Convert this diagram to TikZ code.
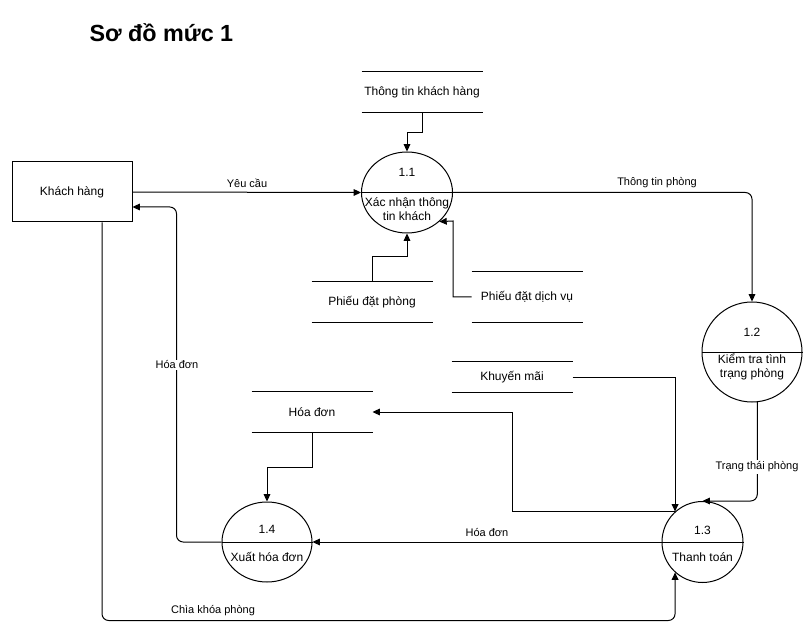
\documentclass[tikz,border=0pt]{standalone}
\usepackage{fontspec}
\setmainfont{Liberation Sans}
\usetikzlibrary{shapes.geometric,arrows.meta,calc}
\begin{document}
\begin{tikzpicture}[x=0.75pt,y=-0.75pt,
  line width=0.75pt,
  arr/.style={-{Triangle[length=5.5pt,width=5pt]}},
  ent/.style={draw,rectangle,minimum width=90pt,minimum height=45pt,inner sep=0pt,font=\fontsize{9}{10.5}\selectfont},
  proc/.style={draw,ellipse,inner sep=0pt},
  store/.style={rectangle,inner sep=0pt,minimum width=#1,font=\fontsize{9}{10.5}\selectfont},
  txt/.style={font=\fontsize{9}{10.5}\selectfont,align=center,inner sep=0pt},
  lbl/.style={font=\fontsize{8.25}{10}\selectfont,inner sep=1pt},
  lblw/.style={lbl,fill=white}]
\useasboundingbox (0,0) rectangle (811,638);
\node[anchor=west,inner sep=0pt,font=\bfseries\fontsize{17.5}{20}\selectfont] (title) at (89,33) {Sơ đồ mức 1};
% entity
\node[ent] (kh) at (72,192) {Khách hàng};
% processes
\node[proc,minimum width=68.25pt,minimum height=60.75pt] (p11) at (407,192.5) {};
\node[proc,minimum width=75pt,minimum height=75pt] (p12) at (752,352) {};
\node[proc,minimum width=60.75pt,minimum height=60.75pt] (p13) at (702.5,542) {};
\node[proc,minimum width=67.5pt,minimum height=60pt] (p14) at (267,542) {};
\draw (p11.west) -- (p11.east);
\draw (p12.west) -- (p12.east);
\draw (p13.west) -- (p13.east);
\draw (p14.west) -- (p14.east);
\node[txt] (n11) at (407,172) {1.1};
\node[txt] (t11) at (407,209) {Xác nhận thông\\tin khách};
\node[txt] (n12) at (752,332) {1.2};
\node[txt] (t12) at (752,367) {Kiểm tra tình\\trạng phòng};
\node[txt] (n13) at (702.5,530) {1.3};
\node[txt] (t13) at (702.5,557) {Thanh toán};
\node[txt] (n14) at (267,529) {1.4};
\node[txt] (t14) at (267,557) {Xuất hóa đơn};
% stores
\node[store=90pt,minimum height=30pt] (stkh) at (422,92) {Thông tin khách hàng};
\node[store=90pt,minimum height=30pt] (spdp) at (372,302) {Phiếu đặt phòng};
\node[store=82.5pt,minimum height=37.5pt] (spdv) at (527,297) {Phiếu đặt dịch vụ};
\node[store=90pt,minimum height=22.5pt] (skm) at (512,377) {Khuyến mãi};
\node[store=90pt,minimum height=30pt] (shd) at (312,412) {Hóa đơn};
\foreach \s in {stkh,spdp,spdv,skm,shd}{
  \draw (\s.north west) -- (\s.north east);
  \draw (\s.south west) -- (\s.south east);
}
% connectors
\draw[arr] (stkh.south) -- ++(0,20) -| (p11.north);
\draw[arr] (spdp.north) -- ++(0,-25) -| (p11.south);
\coordinate (c1) at (453,221);
\draw[arr] (spdv.west) -| (c1) -- (p11.-42);
\draw[arr] (kh.east) -- (p11.west);
\node[lbl] (lyc) at (247,183) {Yêu cầu};
\draw[arr,rounded corners=5pt] (p11.east) -| (p12.north);
\node[lbl] (lttp) at (657,183) {Thông tin phòng};
\draw[arr,rounded corners=5pt] (p12.-84) |- (p13.north);
\node[lblw] (ltt) at (757,467) {Trạng thái phòng};
\draw[arr] (skm.east) -| (p13.132);
\draw[arr] (p13.132) -- ++(-163,0) |- (shd.east);
\draw[arr] (shd.south) -- ++(0,35) -| (p14.north);
\draw[arr] (p13.west) -- (p14.east);
\node[lbl] (lhd1) at (487,533) {Hóa đơn};
\draw[arr,rounded corners=5pt] (p14.west) -- ++(-45,0) |- ([yshift=-11.25pt]kh.east);
\node[lblw] (lhd2) at (177,365) {Hóa đơn};
\draw[arr,rounded corners=5pt] ([xshift=22.5pt]kh.south) -- ++(0,398) -| (p13.228);
\node[lbl] (lck) at (213,611) {Chìa khóa phòng};
\end{tikzpicture}
\end{document}
